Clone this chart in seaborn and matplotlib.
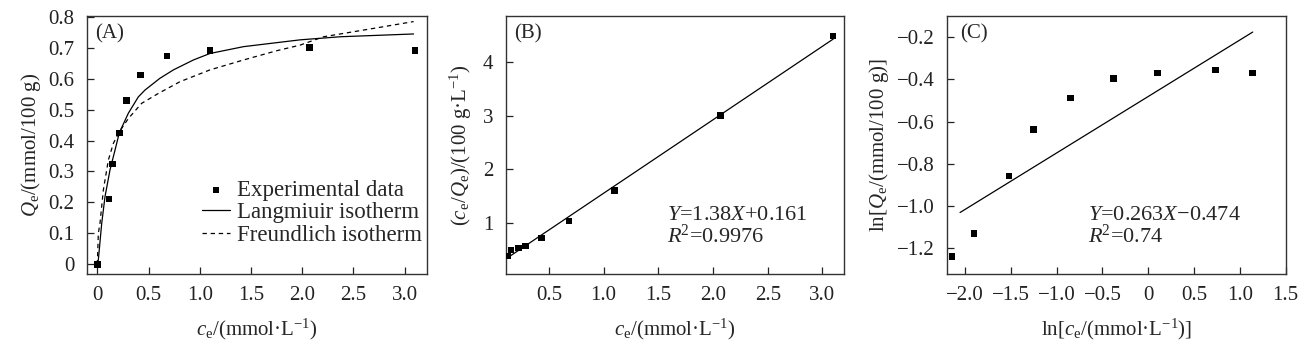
import matplotlib
matplotlib.use("Agg")
import matplotlib.pyplot as plt
import seaborn as sns

# (A) experimental isotherm
ce_exp = [0.0, 0.114, 0.150, 0.215, 0.283, 0.423, 0.681, 1.101, 2.072, 3.104]
qe_exp = [0.0, 0.211, 0.324, 0.425, 0.529, 0.612, 0.673, 0.690, 0.700, 0.690]

# fitted curves as drawn in (A)
lang_c = [0.0, 0.010, 0.043, 0.075, 0.124, 0.173, 0.215, 0.303, 0.401, 0.466,
          0.612, 0.743, 0.938, 1.10, 1.427, 1.753, 1.98, 2.372, 3.088]
lang_q = [0.0, 0.014, 0.132, 0.218, 0.305, 0.369, 0.425, 0.488, 0.541, 0.563,
          0.601, 0.628, 0.660, 0.681, 0.703, 0.716, 0.725, 0.735, 0.744]
freu_c = [0.0, 0.003, 0.010, 0.026, 0.059, 0.108, 0.157, 0.215, 0.303, 0.433,
          0.596, 0.808, 1.10, 1.427, 1.753, 1.98, 2.209, 2.697, 3.088]
freu_q = [0.0, 0.025, 0.100, 0.132, 0.240, 0.337, 0.391, 0.428, 0.471, 0.520,
          0.552, 0.590, 0.628, 0.660, 0.690, 0.708, 0.735, 0.762, 0.784]

# (B) Langmuir linear form
b_x = [0.125, 0.152, 0.220, 0.287, 0.430, 0.683, 1.098, 2.067, 3.098]
b_y = [0.374, 0.487, 0.524, 0.561, 0.717, 1.030, 1.600, 3.010, 4.500]
b_fit_x = [0.104, 3.10]
b_fit_y = [0.32, 4.44]

# (C) Freundlich linear form
c_x = [-2.143, -1.902, -1.520, -1.254, -0.849, -0.379, 0.098, 0.733, 1.137]
c_y = [-1.237, -1.130, -0.857, -0.638, -0.488, -0.397, -0.369, -0.356, -0.369]
c_fit_x = [-2.055, 1.14]
c_fit_y = [-1.030, -0.176]

sns.set_theme(style="ticks")
plt.rcParams["font.family"] = ["Liberation Serif", "DejaVu Serif"]
plt.rcParams["mathtext.fontset"] = "custom"
plt.rcParams["mathtext.rm"] = "Liberation Serif"
plt.rcParams["mathtext.it"] = "Liberation Serif:italic"
plt.rcParams["axes.unicode_minus"] = True

FS = 15
fig = plt.figure(figsize=(13.11, 3.54), dpi=100)
ax_a = fig.add_axes([0.0664, 0.226, 0.2594, 0.7288])
ax_b = fig.add_axes([0.3857, 0.226, 0.2583, 0.7288])
ax_c = fig.add_axes([0.7226, 0.226, 0.2581, 0.7288])

for ax in (ax_a, ax_b, ax_c):
    ax.tick_params(direction="in", length=5, width=0.9, pad=9, labelsize=FS,
                   colors="#222222", top=False, right=False)
    for sp in ax.spines.values():
        sp.set_visible(True)
        sp.set_linewidth(1.0)
        sp.set_color("#333333")

# ---- (A)
sns.lineplot(x=lang_c, y=lang_q, color="black", lw=0.9, sort=False,
             estimator=None, ax=ax_a, label="Langmiuir isotherm")
sns.lineplot(x=freu_c, y=freu_q, color="black", lw=0.9, sort=False,
             estimator=None, linestyle=(0, (3.5, 3)), ax=ax_a,
             label="Freundlich isotherm")
sns.scatterplot(x=ce_exp, y=qe_exp, marker="s", color="black", s=22,
                edgecolor="none", ax=ax_a, label="Experimental data", zorder=3)
h, l = ax_a.get_legend_handles_labels()
order = [l.index("Experimental data"), l.index("Langmiuir isotherm"),
         l.index("Freundlich isotherm")]
ax_a.legend([h[i] for i in order], [l[i] for i in order], loc="lower right",
            bbox_to_anchor=(0.985, 0.11), frameon=False, fontsize=FS + 1.5,
            handlelength=1.25, handletextpad=0.3, labelspacing=0.05,
            borderpad=0, borderaxespad=0)
ax_a.set_xlim(-0.1, 3.22)
ax_a.set_ylim(-0.031, 0.802)
ax_a.set_xticks([0, 0.5, 1.0, 1.5, 2.0, 2.5, 3.0])
ax_a.set_xticklabels(["0", "0.5", "1.0", "1.5", "2.0", "2.5", "3.0"])
ax_a.set_yticks([0, 0.1, 0.2, 0.3, 0.4, 0.5, 0.6, 0.7, 0.8])
ax_a.set_yticklabels(["0", "0.1", "0.2", "0.3", "0.4", "0.5", "0.6", "0.7", "0.8"])
ax_a.set_xlabel(r"$c_\mathrm{e}$/(mmol·L$^{-1}$)", fontsize=FS, labelpad=8)
ax_a.set_ylabel(r"$Q_\mathrm{e}$/(mmol/100 g)", fontsize=FS, labelpad=4)
ax_a.text(0.024, 0.97, "(A)", transform=ax_a.transAxes, fontsize=FS, va="top")

# ---- (B)
sns.lineplot(x=b_fit_x, y=b_fit_y, color="black", lw=0.9, estimator=None,
             ax=ax_b)
sns.scatterplot(x=b_x, y=b_y, marker="s", color="black", s=22,
                edgecolor="none", ax=ax_b, zorder=3)
ax_b.set_xlim(0.104, 3.2)
ax_b.set_ylim(0.04, 4.87)
ax_b.set_xticks([0.5, 1.0, 1.5, 2.0, 2.5, 3.0])
ax_b.set_xticklabels(["0.5", "1.0", "1.5", "2.0", "2.5", "3.0"])
ax_b.set_yticks([1, 2, 3, 4])
ax_b.set_yticklabels(["1", "2", "3", "4"])
ax_b.set_xlabel(r"$c_\mathrm{e}$/(mmol·L$^{-1}$)", fontsize=FS, labelpad=8)
ax_b.set_ylabel(r"($c_\mathrm{e}$/$Q_\mathrm{e}$)/(100 g·L$^{-1}$)",
                fontsize=FS, labelpad=6)
ax_b.text(0.025, 0.97, "(B)", transform=ax_b.transAxes, fontsize=FS, va="top")
ax_b.text(0.475, 0.21, r"$Y$=1.38$X$+0.161", transform=ax_b.transAxes,
          fontsize=FS + 1, va="baseline")
ax_b.text(0.475, 0.12, r"$R$$^2$=0.9976", transform=ax_b.transAxes,
          fontsize=FS + 1, va="baseline")

# ---- (C)
sns.lineplot(x=c_fit_x, y=c_fit_y, color="black", lw=0.9, estimator=None,
             ax=ax_c)
sns.scatterplot(x=c_x, y=c_y, marker="s", color="black", s=22,
                edgecolor="none", ax=ax_c, zorder=3)
ax_c.set_xlim(-2.194, 1.5)
ax_c.set_ylim(-1.321, -0.1)
ax_c.set_xticks([-2.0, -1.5, -1.0, -0.5, 0, 0.5, 1.0, 1.5])
ax_c.set_xticklabels(["\u22122.0", "\u22121.5", "\u22121.0", "\u22120.5",
                      "0", "0.5", "1.0", "1.5"])
ax_c.set_yticks([-1.2, -1.0, -0.8, -0.6, -0.4, -0.2])
ax_c.set_yticklabels(["\u22121.2", "\u22121.0", "\u22120.8", "\u22120.6",
                      "\u22120.4", "\u22120.2"])
ax_c.set_xlabel(r"ln[$c_\mathrm{e}$/(mmol·L$^{-1}$)]", fontsize=FS, labelpad=8)
ax_c.set_ylabel(r"ln[$Q_\mathrm{e}$/(mmol/100 g)]", fontsize=FS, labelpad=4)
ax_c.text(0.038, 0.97, "(C)", transform=ax_c.transAxes, fontsize=FS, va="top")
ax_c.text(0.417, 0.21, r"$Y$=0.263$X$$-$0.474", transform=ax_c.transAxes,
          fontsize=FS + 1, va="baseline")
ax_c.text(0.417, 0.12, r"$R$$^2$=0.74", transform=ax_c.transAxes,
          fontsize=FS + 1, va="baseline")

fig.savefig("out.png", dpi=100)
plt.close(fig)
